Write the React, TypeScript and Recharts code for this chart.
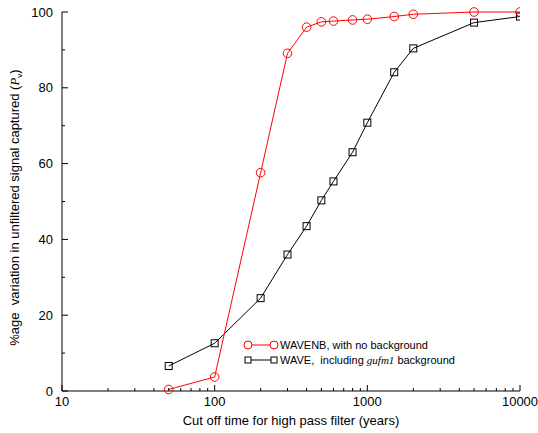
import React from 'react';
import { LineChart, Line, XAxis, YAxis } from 'recharts';

const cutoffs = [50, 100, 200, 300, 400, 500, 600, 800, 1000, 1500, 2000, 5000, 10000];
const wavenb = [0.4, 3.7, 57.6, 89.1, 96.0, 97.4, 97.6, 97.9, 98.1, 98.8, 99.4, 100, 100];
const wave = [6.6, 12.6, 24.5, 36.0, 43.5, 50.3, 55.3, 63.0, 70.8, 84.1, 90.4, 97.2, 98.8];

const xMajor = [10, 100, 1000, 10000];
const xTicks = [10, 20, 30, 40, 50, 60, 70, 80, 90, 100, 200, 300, 400, 500, 600, 700, 800, 900, 1000, 2000, 3000, 4000, 5000, 6000, 7000, 8000, 9000, 10000];
const yTicks = [0, 10, 20, 30, 40, 50, 60, 70, 80, 90, 100];
const yLabelled = [0, 20, 40, 60, 80, 100];

const data = cutoffs.map((c, i) => ({ cutoff: c, wavenb: wavenb[i], wave: wave[i] }));

const FONT = '"Liberation Sans", Arial, sans-serif';
const MAJOR = 6;
const MINOR = 3;

const BottomTick = (props: any) => {
  const { x, y, payload } = props;
  const major = xMajor.includes(payload.value);
  return (
    <g>
      <line x1={x} x2={x} y1={y} y2={y - (major ? MAJOR : MINOR)} stroke="#000" />
      {major && (
        <text x={x} y={y + 15} textAnchor="middle" fontSize={13} fontFamily={FONT} fill="#000">
          {payload.value}
        </text>
      )}
    </g>
  );
};

const TopTick = (props: any) => {
  const { x, y, payload } = props;
  const major = xMajor.includes(payload.value);
  return <line x1={x} x2={x} y1={y} y2={y + (major ? MAJOR : MINOR)} stroke="#000" />;
};

const LeftTick = (props: any) => {
  const { x, y, payload } = props;
  const major = yLabelled.includes(payload.value);
  return (
    <g>
      <line x1={x} x2={x + (major ? MAJOR : MINOR)} y1={y} y2={y} stroke="#000" />
      {major && (
        <text x={x - 9} y={y + 4.5} textAnchor="end" fontSize={13} fontFamily={FONT} fill="#000">
          {payload.value}
        </text>
      )}
    </g>
  );
};

const RightTick = (props: any) => {
  const { x, y, payload } = props;
  const major = yLabelled.includes(payload.value);
  return <line x1={x} x2={x - (major ? MAJOR : MINOR)} y1={y} y2={y} stroke="#000" />;
};

const SquareDot = (props: any) => {
  const { cx, cy, index } = props;
  return <rect key={`sq-${index}`} x={cx - 3.5} y={cy - 3.5} width={7} height={7} fill="none" stroke="#000" />;
};

const LegendBox = () => (
  <svg width={240} height={34} style={{ position: 'absolute', left: 244, top: 337, overflow: 'visible' }}>
    <line x1={4} x2={30} y1={8} y2={8} stroke="#ff0000" />
    <circle cx={4} cy={8} r={4} fill="#fff" stroke="#ff0000" />
    <circle cx={30} cy={8} r={4} fill="#fff" stroke="#ff0000" />
    <text x={36} y={12} fontSize={11} fontFamily={FONT} fill="#000">WAVENB, with no background</text>
    <line x1={4} x2={30} y1={23} y2={23} stroke="#000" />
    <rect x={1} y={20} width={6} height={6} fill="#fff" stroke="#000" />
    <rect x={27} y={20} width={6} height={6} fill="#fff" stroke="#000" />
    <text x={36} y={27} fontSize={11} fontFamily={FONT} fill="#000" xmlSpace="preserve">
      {'WAVE,  including '}
      <tspan fontFamily='"Liberation Serif", serif' fontStyle="italic">gufm1</tspan>
      {' background'}
    </text>
  </svg>
);

export default function App() {
  return (
    <div style={{ position: 'absolute', left: 0, top: 0, width: 538, height: 433, background: '#fff' }}>
      <LineChart width={538} height={433} data={data} margin={{ top: 12, right: 18, left: 0, bottom: 0 }}>
        <XAxis
          xAxisId="bottom"
          dataKey="cutoff"
          type="number"
          scale="log"
          domain={[10, 10000]}
          allowDataOverflow
          ticks={xTicks}
          interval={0}
          height={42}
          tickSize={0}
          tickMargin={0}
          tickLine={false}
          tick={<BottomTick />}
          axisLine={{ stroke: '#000' }}
          label={{
            value: 'Cut off time for high pass filter (years)',
            position: 'insideBottom',
            offset: 8,
            fontSize: 13,
            fontFamily: FONT,
            fill: '#000',
          }}
        />
        <XAxis
          xAxisId="top"
          orientation="top"
          dataKey="cutoff"
          type="number"
          scale="log"
          domain={[10, 10000]}
          allowDataOverflow
          ticks={xTicks}
          interval={0}
          height={0}
          tickSize={0}
          tickMargin={0}
          tickLine={false}
          tick={<TopTick />}
          axisLine={{ stroke: '#000' }}
        />
        <YAxis
          yAxisId="left"
          type="number"
          domain={[0, 100]}
          ticks={yTicks}
          interval={0}
          width={62}
          tickSize={0}
          tickMargin={0}
          tickLine={false}
          tick={<LeftTick />}
          axisLine={{ stroke: '#000' }}
          label={({ viewBox }: any) => (
            <text
              transform={`translate(19, ${viewBox.y + viewBox.height / 2 + 6}) rotate(-90)`}
              textAnchor="middle"
              fontSize={13}
              fontFamily={FONT}
              fill="#000"
              xmlSpace="preserve"
            >
              {'%age  variation in unfiltered signal captured ('}
              <tspan fontFamily='"Liberation Serif", serif' fontStyle="italic">P</tspan>
              <tspan fontSize={8} dy={3}>v</tspan>
              <tspan dy={-3}>)</tspan>
            </text>
          )}
        />
        <YAxis
          yAxisId="right"
          orientation="right"
          type="number"
          domain={[0, 100]}
          ticks={yTicks}
          interval={0}
          width={0}
          tickSize={0}
          tickMargin={0}
          tickLine={false}
          tick={<RightTick />}
          axisLine={{ stroke: '#000' }}
        />
        <Line
          xAxisId="bottom"
          yAxisId="left"
          dataKey="wave"
          stroke="#000"
          strokeWidth={1}
          dot={<SquareDot />}
          isAnimationActive={false}
        />
        <Line
          xAxisId="bottom"
          yAxisId="left"
          dataKey="wavenb"
          stroke="#ff0000"
          strokeWidth={1}
          dot={{ r: 4.3, fill: 'none', stroke: '#ff0000', strokeWidth: 1 }}
          isAnimationActive={false}
        />
      </LineChart>
      <LegendBox />
    </div>
  );
}
